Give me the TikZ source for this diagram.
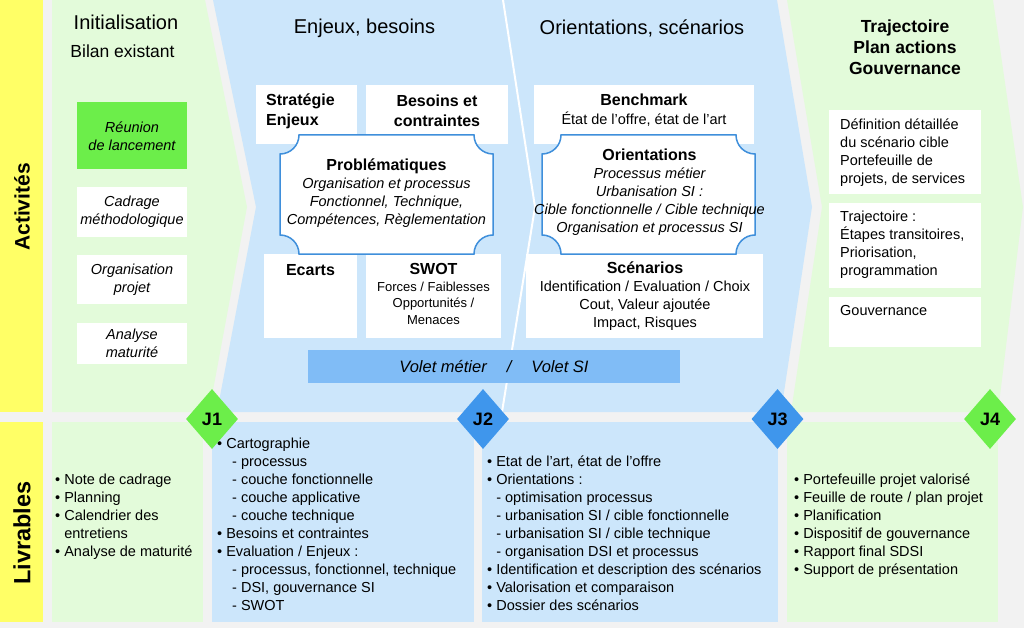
\documentclass[tikz,border=0pt]{standalone}
\usepackage{fontspec}
\setmainfont{Liberation Sans}
\usetikzlibrary{shapes.geometric, positioning}
\definecolor{sdgray}{HTML}{F2F2F2}
\definecolor{sdyellow}{HTML}{FFFF66}
\definecolor{sdlgreen}{HTML}{E3FBDA}
\definecolor{sdlblue}{HTML}{CCE6FB}
\definecolor{sdgreen}{HTML}{6CEE4A}
\definecolor{sdblue}{HTML}{3F96EC}
\definecolor{sdbar}{HTML}{80BCF6}
\definecolor{sdedge}{HTML}{3F8FDB}

\begin{document}
\begin{tikzpicture}[x=1pt, y=-1pt,
  every node/.style={inner sep=0pt, font=\fontsize{14.5}{18}\selectfont},
  wbox/.style={rectangle, fill=white, align=center},
  ibox/.style={wbox, font=\fontsize{14.5}{18}\selectfont\itshape},
  gbox/.style={ibox, fill=sdgreen},
  hdr/.style={font=\fontsize{16}{20}\selectfont\bfseries, align=center},
  notch/.style={fill=white, draw=sdedge, line width=1.5pt},
  phase/.style={font=\fontsize{20}{24}\selectfont},
  rowlabel/.style={rotate=90, font=\fontsize{21}{24}\selectfont\bfseries},
  volet/.style={rectangle, fill=sdbar, minimum width=372pt, minimum height=33pt, font=\fontsize{16.5}{20}\selectfont\itshape},
  jalon/.style={diamond, minimum width=52pt, minimum height=60pt, font=\fontsize{18}{20}\selectfont\bfseries},
  deliv/.style={anchor=west, align=left},
]
\useasboundingbox (0,0) rectangle (1024,628);

% Background and row bands
\fill[sdgray] (0,0) rectangle (1024,628);
\fill[sdyellow] (0,0) rectangle (43,412);
\fill[sdyellow] (0,422) rectangle (43,622);

% Phases (activities row)
\fill[sdlgreen] (52,0) -- (205,0) -- (247,207) -- (209,412) -- (52,412) -- cycle;
\fill[sdlblue] (213,0) -- (777,0) -- (812,207) -- (781,412) -- (217,412) -- (256,207) -- cycle;
\draw[white, line width=2pt] (503,0) -- (535,207) -- (502,412);
\fill[sdlgreen] (787,0) -- (993,0) -- (1023,207) -- (998,412) -- (791,412) -- (822,207) -- cycle;

% Deliverables row
\fill[sdlgreen] (52,422) rectangle (203,622);
\fill[sdlblue] (212,422) rectangle (474,622);
\fill[sdlblue] (482,422) rectangle (778,622);
\fill[sdlgreen] (787,422) rectangle (998,622);

% Row labels
\node[rowlabel] (activ) at (22,207) {Activités};
\node[rowlabel, font=\fontsize{23.5}{26}\selectfont\bfseries] (livr) at (22,533) {Livrables};

% Phase titles
\node[phase] (init) at (126,22) {Initialisation};
\node[font=\fontsize{17.5}{20}\selectfont] (bilan) at (122.5,51) {Bilan existant};
\node[phase] (enjeux) at (364.5,28) {Enjeux, besoins};
\node[phase] (orient) at (642,28) {Orientations, scénarios};
\node[font=\fontsize{17.5}{21}\selectfont\bfseries, align=center] (traj) at (905,47) {Trajectoire\\Plan actions\\Gouvernance};

% Initialisation
\node[gbox, minimum width=110pt, minimum height=67pt] (reunion) at (132,136) {Réunion\\de lancement};
\node[ibox, minimum width=110pt, minimum height=50pt] (cadrage) at (132,212) {Cadrage\\méthodologique};
\node[ibox, minimum width=110pt, minimum height=49pt] (orgproj) at (132,279.5) {Organisation\\projet};
\node[ibox, minimum width=110pt, minimum height=41pt] (analyse) at (132,343) {Analyse\\maturité};

% Enjeux, besoins
\node[wbox, minimum width=101pt, minimum height=59pt] (strat) at (306.5,114.5) {};
\node[hdr, anchor=west, align=left] (strattxt) at (266,111) {Stratégie\\Enjeux};
\node[wbox, minimum width=142pt, minimum height=59pt] (besoins) at (437,114.5) {};
\node[hdr] (besoinstxt) at (437,111) {Besoins et\\contraintes};
\node[wbox, minimum width=93pt, minimum height=84pt] (ecarts) at (310.5,296) {};
\node[hdr] (ecartstxt) at (310.5,270) {Ecarts};
\node[wbox, minimum width=135pt, minimum height=84pt] (swot) at (433.5,296) {};
\node[align=center, font=\fontsize{13}{16.5}\selectfont] (swottxt) at (433.5,294) {{\fontsize{16}{20}\selectfont\bfseries SWOT}\\Forces / Faiblesses\\Opportunités /\\Menaces};
\draw[notch] (299,135) -- (474,135) .. controls (474,145.5) and (482.5,154) .. (493,154) -- (493,235) .. controls (482.5,235) and (474,243.5) .. (474,254) -- (299,254) .. controls (299,243.5) and (290.5,235) .. (280,235) -- (280,154) .. controls (290.5,154) and (299,145.5) .. (299,135) -- cycle;
\node[align=center, font=\fontsize{14.5}{18}\selectfont\itshape] (probl) at (386.5,193) {{\fontsize{16}{18}\selectfont\upshape\bfseries Problématiques}\\Organisation et processus\\Fonctionnel, Technique,\\Compétences, Règlementation};

% Orientations, scenarios
\node[wbox, minimum width=220pt, minimum height=59pt] (bench) at (644,114.5) {};
\node[align=center, font=\fontsize{14.5}{19}\selectfont] (benchtxt) at (644,110.5) {{\fontsize{16}{19}\selectfont\bfseries Benchmark}\\État de l’offre, état de l’art};
\node[wbox, minimum width=237pt, minimum height=84pt] (scen) at (644.5,296) {};
\node[align=center] (scentxt) at (645,296.5) {{\fontsize{16}{18}\selectfont\bfseries Scénarios}\\Identification / Evaluation / Choix\\Cout, Valeur ajoutée\\Impact, Risques};
\draw[notch] (561,135) -- (736,135) .. controls (736,145.5) and (744.5,154) .. (755,154) -- (755,235) .. controls (744.5,235) and (736,243.5) .. (736,254) -- (561,254) .. controls (561,243.5) and (552.5,235) .. (542,235) -- (542,154) .. controls (552.5,154) and (561,145.5) .. (561,135) -- cycle;
\node[align=center, font=\fontsize{14.5}{18}\selectfont\itshape] (orienttxt) at (649.5,192.5) {{\fontsize{16}{18}\selectfont\upshape\bfseries Orientations}\\Processus métier\\Urbanisation SI :\\Cible fonctionnelle / Cible technique\\Organisation et processus SI};
\node[volet] (voletbar) at (494,366.5) {Volet métier\hspace{20pt}/\hspace{20pt}Volet SI};

% Trajectoire
\node[wbox, minimum width=152pt, minimum height=84pt] (trajA) at (905,152) {};
\node[deliv] (trajAtxt) at (840,152.5) {Définition détaillée\\du scénario cible\\Portefeuille de\\projets, de services};
\node[wbox, minimum width=152pt, minimum height=85pt] (trajB) at (905,245.5) {};
\node[deliv] (trajBtxt) at (840,245) {Trajectoire :\\Étapes transitoires,\\Priorisation,\\programmation};
\node[wbox, minimum width=152pt, minimum height=50pt] (trajC) at (905,322) {};
\node[deliv] (trajCtxt) at (840,311) {Gouvernance};

% Livrables
\node[deliv] (liv1) at (55,516.5) {• Note de cadrage\\• Planning\\• Calendrier des\\\phantom{• }entretiens\\• Analyse de maturité};
\node[deliv] (liv2) at (217,524) {• Cartographie\\\hspace*{15pt}- processus\\\hspace*{15pt}- couche fonctionnelle\\\hspace*{15pt}- couche applicative\\\hspace*{15pt}- couche technique\\• Besoins et contraintes\\• Evaluation / Enjeux :\\\hspace*{15pt}- processus, fonctionnel, technique\\\hspace*{15pt}- DSI, gouvernance SI\\\hspace*{15pt}- SWOT};
\node[deliv] (liv3) at (487,533.5) {• Etat de l’art, état de l’offre\\• Orientations :\\\phantom{• }- optimisation processus\\\phantom{• }- urbanisation SI / cible fonctionnelle\\\phantom{• }- urbanisation SI / cible technique\\\phantom{• }- organisation DSI et processus\\• Identification et description des scénarios\\• Valorisation et comparaison\\• Dossier des scénarios};
\node[deliv] (liv4) at (794,526) {• Portefeuille projet valorisé\\• Feuille de route / plan projet\\• Planification\\• Dispositif de gouvernance\\• Rapport final SDSI\\• Support de présentation};

% Jalons
\node[jalon, fill=sdgreen] (j1) at (212,419) {J1};
\node[jalon, fill=sdblue] (j2) at (483,419) {J2};
\node[jalon, fill=sdblue] (j3) at (777.5,419) {J3};
\node[jalon, fill=sdgreen] (j4) at (990,419) {J4};

\end{tikzpicture}
\end{document}
